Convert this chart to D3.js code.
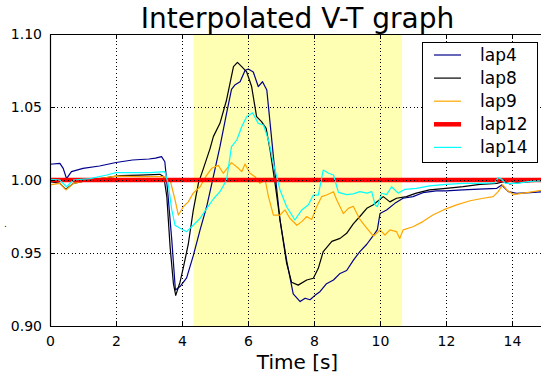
<!DOCTYPE html>
<html>
<head>
<meta charset="utf-8">
<script src="https://cdn.jsdelivr.net/npm/d3@7"></script>
<style>
  html, body { margin: 0; padding: 0; background: #fff; }
  svg { display: block; font-family: "DejaVu Sans", sans-serif; }
</style>
</head>
<body>
<svg id="chart" width="541" height="378"></svg>
<script>
// Voltage per lap, [time s, value]
const lap4 = [[0,1.0108],[0.3,1.0114],[0.4,1.008],[0.5,1.001],[0.65,1.0057],[1.0,1.008],[1.5,1.0096],[2.0,1.012],[2.5,1.0137],[3.0,1.0144],[3.2,1.015],[3.38,1.016],[3.48,1.0125],[3.58,0.9886],[3.69,0.959],[3.8,0.9247],[3.94,0.927],[4.14,0.933],[4.34,0.948],[4.55,0.966],[4.75,0.982],[4.95,1.0023],[5.15,1.0228],[5.35,1.0457],[5.5,1.062],[5.6,1.065],[5.76,1.0673],[5.91,1.075],[6.01,1.076],[6.16,1.074],[6.31,1.064],[6.44,1.0673],[6.57,1.0616],[6.67,1.0388],[6.82,1.0046],[6.97,0.9726],[7.17,0.945],[7.37,0.922],[7.58,0.9167],[7.73,0.919],[7.88,0.918],[8.03,0.921],[8.18,0.9235],[8.38,0.929],[8.59,0.9315],[8.79,0.936],[8.99,0.938],[9.19,0.945],[9.39,0.951],[9.6,0.956],[9.8,0.962],[9.92,0.966],[10.0,0.977],[10.2,0.9795],[10.45,0.984],[10.7,0.9875],[11.0,0.9886],[11.3,0.9913],[11.7,0.9925],[12.0,0.9925],[12.5,0.9932],[13.0,0.9938],[13.54,0.9943],[13.69,0.9966],[13.89,0.992],[14.14,0.9909],[14.55,0.9913],[15.0,0.992]];
const lap8 = [[0,0.9989],[0.3,0.9977],[0.48,0.9936],[0.71,0.9977],[1.21,1.0],[1.72,1.0016],[2.12,1.003],[2.73,1.0034],[3.33,1.0039],[3.45,1.0023],[3.54,0.9886],[3.64,0.954],[3.74,0.929],[3.81,0.921],[3.94,0.93],[4.04,0.94],[4.19,0.956],[4.34,0.979],[4.5,0.998],[4.65,1.008],[4.85,1.0215],[4.95,1.0297],[5.15,1.0388],[5.35,1.0548],[5.56,1.0776],[5.68,1.0806],[5.81,1.0776],[5.96,1.074],[6.11,1.064],[6.26,1.0434],[6.41,1.04],[6.55,1.0354],[6.67,1.0205],[6.82,0.9977],[6.97,0.9726],[7.17,0.943],[7.32,0.93],[7.52,0.928],[7.78,0.9315],[7.98,0.9327],[8.13,0.9395],[8.28,0.951],[8.54,0.958],[8.79,0.96],[8.99,0.9635],[9.19,0.97],[9.39,0.975],[9.6,0.9806],[9.8,0.983],[10.1,0.9886],[10.3,0.985],[10.5,0.9875],[10.8,0.9886],[11.1,0.991],[11.5,0.9932],[12.0,0.9943],[12.52,0.9954],[13.03,0.997],[13.54,0.9977],[13.74,0.9988],[13.94,0.9973],[14.14,0.998],[14.55,0.9989],[15.0,0.9993]];
const lap9 = [[0,0.9966],[0.3,0.9977],[0.48,0.9932],[0.71,0.9977],[1.21,1.0],[2.0,1.0027],[2.73,1.0023],[3.43,1.0023],[3.64,1.0],[3.79,0.9863],[3.89,0.976],[4.04,0.9817],[4.19,0.985],[4.34,0.991],[4.55,0.9954],[4.75,1.0034],[4.9,1.008],[5.1,1.01],[5.25,1.0046],[5.5,1.0119],[5.71,1.008],[5.81,1.0057],[5.91,1.011],[6.06,1.0046],[6.21,1.0023],[6.36,0.9977],[6.52,1.0],[6.62,0.9886],[6.77,0.976],[6.97,0.976],[7.12,0.9795],[7.27,0.9738],[7.48,0.969],[7.63,0.9715],[7.78,0.975],[7.93,0.973],[8.08,0.9817],[8.23,0.9886],[8.38,0.9897],[8.59,0.992],[8.69,0.9863],[8.89,0.977],[9.04,0.9806],[9.19,0.982],[9.39,0.973],[9.6,0.967],[9.8,0.9615],[10.0,0.9658],[10.15,0.9623],[10.3,0.9658],[10.5,0.9646],[10.6,0.96],[10.7,0.9658],[11.0,0.968],[11.3,0.9715],[11.6,0.976],[11.92,0.9795],[12.32,0.983],[12.73,0.9858],[13.13,0.9875],[13.43,0.9886],[13.58,0.992],[13.72,0.9966],[13.84,0.9932],[14.04,0.99],[14.34,0.991],[14.65,0.992],[15.0,0.9935]];
const lap12 = [[0,1.0],[15.0,1.0]];
const lap14 = [[0,1.0005],[0.3,1.0],[0.5,0.9954],[0.71,1.0],[1.21,1.001],[1.72,1.0034],[2.0,1.005],[2.52,1.005],[3.03,1.005],[3.48,1.0057],[3.58,0.9977],[3.69,0.9795],[3.79,0.969],[3.94,0.967],[4.14,0.9646],[4.34,0.969],[4.55,0.9738],[4.75,0.9806],[4.95,0.987],[5.15,0.992],[5.35,1.0],[5.5,1.0228],[5.66,1.0274],[5.81,1.0365],[5.96,1.0434],[6.14,1.046],[6.31,1.0388],[6.47,1.0377],[6.62,1.0274],[6.77,1.0114],[6.97,0.9932],[7.17,0.9817],[7.42,0.9726],[7.63,0.9795],[7.83,0.983],[7.98,0.9897],[8.13,0.9897],[8.28,1.0068],[8.44,1.0046],[8.59,1.0034],[8.74,0.9915],[8.99,0.99],[9.19,0.9905],[9.39,0.992],[9.6,0.991],[9.75,0.992],[9.85,0.983],[9.92,0.9817],[10.05,0.9909],[10.2,0.99],[10.35,0.9954],[10.55,0.991],[10.76,0.9936],[11.1,0.9943],[11.5,0.996],[12.0,0.997],[12.52,0.9977],[13.03,0.9977],[13.48,0.998],[13.58,1.0016],[13.69,1.0005],[13.8,0.9977],[14.14,0.9977],[14.55,0.999],[15.0,0.9995]];

const seriesNames = ["lap4", "lap8", "lap9", "lap12", "lap14"];
const seriesData = [lap4, lap8, lap9, lap12, lap14];
const seriesColors = ["#00008B", "#000000", "#FFA500", "#FF0000", "#00FFFF"];
const seriesWidths = [1.2, 1.2, 1.2, 4.5, 1.2];

// highlighted time window
const spanStart = 4.35, spanEnd = 10.67;

const xTicks = [0, 2, 4, 6, 8, 10, 12, 14];
const yTicks = [0.90, 0.95, 1.00, 1.05, 1.10];

const titleText = "Interpolated V-T graph";
const xLabelText = "Time [s]";

(function draw() {
  const svg = d3.select("#chart");
  const pLeft = 50, pRight = 545, pTop = 34, pBottom = 326;

  const x = d3.scaleLinear().domain([0, 15]).range([pLeft, pRight]);
  const y = d3.scaleLinear().domain([0.9, 1.1]).range([pBottom, pTop]);

  svg.append("defs").append("clipPath").attr("id", "plotClip")
    .append("rect").attr("x", pLeft).attr("y", pTop)
    .attr("width", pRight - pLeft).attr("height", pBottom - pTop);

  const plot = svg.append("g").attr("clip-path", "url(#plotClip)");

  plot.append("rect")
    .attr("x", x(spanStart)).attr("y", pTop)
    .attr("width", x(spanEnd) - x(spanStart)).attr("height", pBottom - pTop)
    .attr("fill", "#FFFFB3");

  const line = d3.line().x(d => x(d[0])).y(d => y(d[1]));

  seriesData.forEach((data, i) => {
    plot.append("path")
      .datum(data)
      .attr("d", line)
      .attr("fill", "none")
      .attr("stroke", seriesColors[i])
      .attr("stroke-width", seriesWidths[i])
      .attr("stroke-linejoin", "round");
  });

  // dotted grid on top of the data
  const gridX = d3.axisBottom(x).tickValues(xTicks).tickSize(-(pBottom - pTop)).tickFormat("");
  const gridY = d3.axisLeft(y).tickValues(yTicks).tickSize(-(pRight - pLeft)).tickFormat("");
  [svg.append("g").attr("transform", `translate(0,${pBottom})`).call(gridX),
   svg.append("g").attr("transform", `translate(${pLeft},0)`).call(gridY)].forEach(g => {
    g.select(".domain").remove();
    g.selectAll("line").attr("stroke", "#000").attr("stroke-width", 1)
      .attr("stroke-dasharray", "1,2.6").attr("shape-rendering", "crispEdges");
  });

  // frame and inward ticks on all sides
  const tickLen = 5;
  const axB = d3.axisBottom(x).tickValues(xTicks).tickSizeInner(-tickLen).tickSizeOuter(0).tickPadding(tickLen + 5).tickFormat(d3.format("d"));
  const axT = d3.axisTop(x).tickValues(xTicks).tickSizeInner(-tickLen).tickSizeOuter(0).tickFormat("");
  const axL = d3.axisLeft(y).tickValues(yTicks).tickSizeInner(-tickLen).tickSizeOuter(0).tickPadding(tickLen + 3).tickFormat(d3.format(".2f"));
  const axR = d3.axisRight(y).tickValues(yTicks).tickSizeInner(-tickLen).tickSizeOuter(0).tickFormat("");

  const gB = svg.append("g").attr("transform", `translate(0,${pBottom})`).call(axB);
  const gT = svg.append("g").attr("transform", `translate(0,${pTop})`).call(axT);
  const gL = svg.append("g").attr("transform", `translate(${pLeft},0)`).call(axL);
  const gR = svg.append("g").attr("transform", `translate(${pRight},0)`).call(axR);
  [gB, gT, gL, gR].forEach(g => {
    g.select(".domain").attr("stroke", "#000").attr("stroke-width", 1.2);
    g.selectAll(".tick line").attr("stroke", "#000").attr("stroke-width", 1);
    g.selectAll("text").attr("font-family", "DejaVu Sans").attr("font-size", 14).attr("fill", "#000");
  });

  // title and axis label
  svg.append("text").attr("x", (pLeft + pRight) / 2).attr("y", 28)
    .attr("text-anchor", "middle").attr("font-size", 28).text(titleText);
  svg.append("text").attr("x", (pLeft + pRight) / 2).attr("y", 369)
    .attr("text-anchor", "middle").attr("font-size", 20).text(xLabelText);
  svg.append("text").attr("x", 4).attr("y", 227)
    .attr("font-size", 9).text(".");

  // legend
  const lg = svg.append("g");
  lg.append("rect").attr("x", 422.5).attr("y", 42.5).attr("width", 115).attr("height", 120)
    .attr("fill", "#fff").attr("stroke", "#000").attr("stroke-width", 1);
  seriesNames.forEach((name, i) => {
    const cy = 55 + i * 23.1;
    lg.append("line").attr("x1", 434).attr("x2", 461).attr("y1", cy).attr("y2", cy)
      .attr("stroke", seriesColors[i]).attr("stroke-width", seriesWidths[i]);
    lg.append("text").attr("x", 480).attr("y", cy + 6).attr("font-size", 17).text(name);
  });
})();
</script>
</body>
</html>
